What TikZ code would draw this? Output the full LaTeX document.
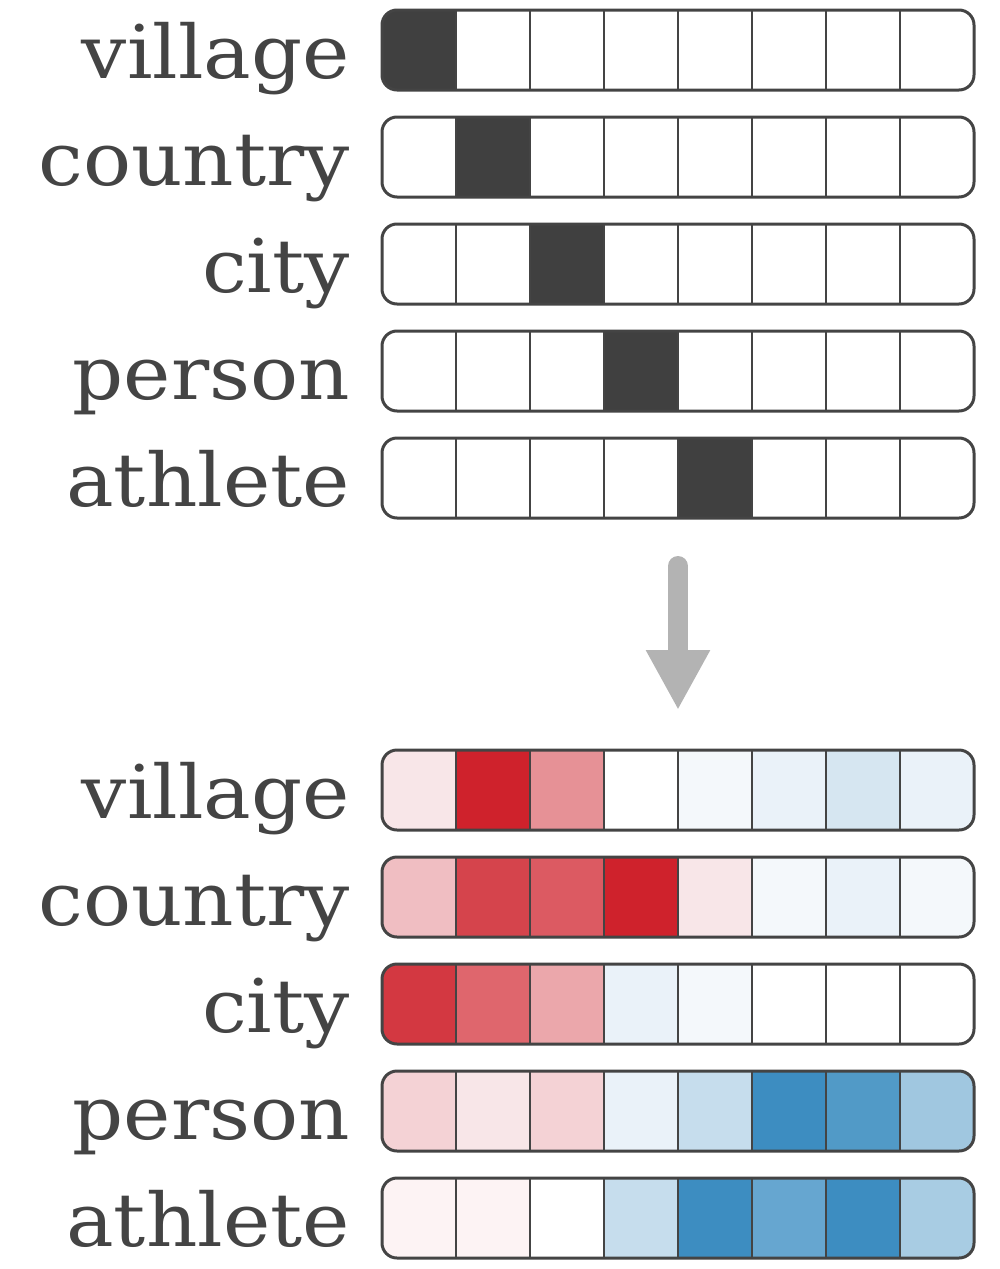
\documentclass[tikz,border=0pt]{standalone}
\usepackage{fontspec}
\setmainfont[FakeStretch=1.08]{DejaVu Serif}
\usetikzlibrary{arrows.meta}
\definecolor{ink}{HTML}{444444}
\definecolor{arrowgray}{HTML}{B3B3B3}
\tikzset{
  barbox/.style={draw=ink, line width=3pt, rounded corners=15pt, minimum width=592pt, minimum height=80pt, inner sep=0pt, fill=none},
  cellline/.style={draw=ink, line width=2.4pt},
  lbl/.style={text=ink, font=\fontsize{74}{74}\selectfont, inner sep=0pt, anchor=base east},
  bigarrow/.style={draw=arrowgray, line width=20pt, line cap=round, -{Triangle[width=60pt,length=60pt]}}
}
\newcommand\vecbar[3]{%
  \begin{scope}
    \clip[rounded corners=15pt] (382,#2) rectangle ++(592,80);
    \foreach \c [count=\i from 0] in {#3} {
      \definecolor{cellc}{HTML}{\c}
      \fill[cellc] (382+74*\i,#2) rectangle ++(74,80);
    }
  \end{scope}
  \foreach \i in {1,...,7} \draw[cellline] (382+74*\i,#2) -- ++(0,80);
  \node[barbox] (#1) at (678,#2+40) {};
}
\begin{document}
\begin{tikzpicture}[x=1pt,y=-1pt]
\useasboundingbox (0,0) rectangle (1000,1269);
% top one-hot vectors
\vecbar{t1}{10}{404040,FFFFFF,FFFFFF,FFFFFF,FFFFFF,FFFFFF,FFFFFF,FFFFFF}
\vecbar{t2}{117}{FFFFFF,404040,FFFFFF,FFFFFF,FFFFFF,FFFFFF,FFFFFF,FFFFFF}
\vecbar{t3}{224}{FFFFFF,FFFFFF,404040,FFFFFF,FFFFFF,FFFFFF,FFFFFF,FFFFFF}
\vecbar{t4}{331}{FFFFFF,FFFFFF,FFFFFF,404040,FFFFFF,FFFFFF,FFFFFF,FFFFFF}
\vecbar{t5}{438}{FFFFFF,FFFFFF,FFFFFF,FFFFFF,404040,FFFFFF,FFFFFF,FFFFFF}
\node[lbl] (lt1) at (350,78) {village};
\node[lbl] (lt2) at (350,185) {country};
\node[lbl] (lt3) at (350,292) {city};
\node[lbl] (lt4) at (350,399) {person};
\node[lbl] (lt5) at (350,506) {athlete};
% arrow
\coordinate (as) at (678,566);
\coordinate (ae) at (678,710);
\draw[bigarrow] (as) -- (ae);
% bottom dense vectors
\vecbar{b1}{750}{F8E6E8,CF222C,E69196,FFFFFF,F4F8FB,EAF2F9,D6E6F1,EAF2F9}
\vecbar{b2}{857}{F0BEC2,D5444C,DC5A62,CF222C,F8E6E8,F4F8FB,EAF2F9,F4F8FB}
\vecbar{b3}{964}{D33841,DF666D,EBA7AB,EAF2F9,F4F8FB,FFFFFF,FFFFFF,FFFFFF}
\vecbar{b4}{1071}{F4D2D5,F8E6E8,F4D2D5,EAF2F9,C6DDED,3D8DC1,519AC7,A0C7E0}
\vecbar{b5}{1178}{FDF3F4,FDF3F4,FFFFFF,C6DDED,3D8DC1,66A6D0,3D8DC1,A8CCE3}
\node[lbl] (lb1) at (350,818) {village};
\node[lbl] (lb2) at (350,925) {country};
\node[lbl] (lb3) at (350,1032) {city};
\node[lbl] (lb4) at (350,1139) {person};
\node[lbl] (lb5) at (350,1246) {athlete};
\end{tikzpicture}
\end{document}
